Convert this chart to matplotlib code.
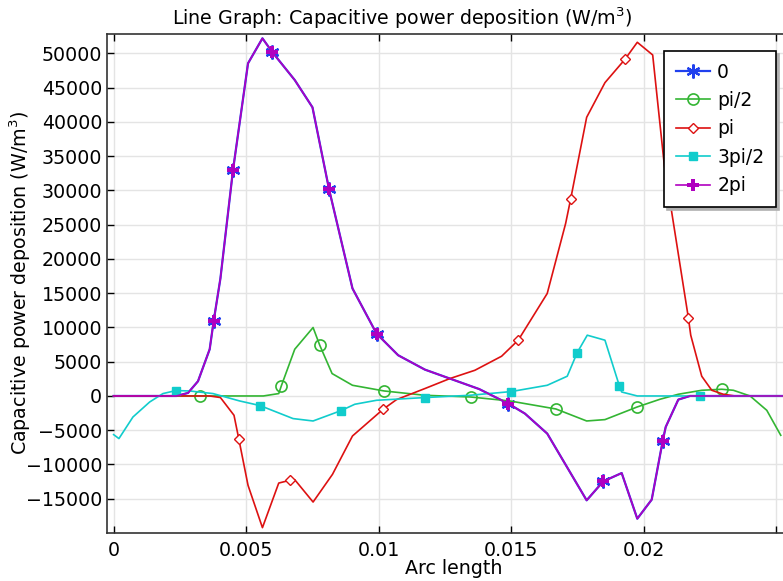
import matplotlib
matplotlib.use('Agg')
import matplotlib.pyplot as plt

# arc length (m) and capacitive power deposition (W/m^3) for each phase
x_0 = [0, 0.002368, 0.002806, 0.003184, 0.003625, 0.003776, 0.00403, 0.004505,
       0.005072, 0.005616, 0.005993, 0.006835, 0.007504, 0.008131, 0.009014,
       0.009921, 0.010737, 0.011745, 0.012689, 0.0138, 0.01489, 0.015521,
       0.016363, 0.017851, 0.018478, 0.019173, 0.019762, 0.020306, 0.020721,
       0.020834, 0.02131, 0.021752, 0.0253]
y_0 = [0, 0, 440, 2150, 6820, 10950, 17150, 32970,
       48550, 52200, 50160, 46110, 42130, 30150, 15690,
       9110, 5945, 3850, 2540, 1000, -1110, -2570,
       -5490, -15230, -12460, -11250, -17910, -15130, -6570,
       -4530, -530, 0, 0]

x_pi2 = [0, 0.003248, 0.00565, 0.006231, 0.006333, 0.006835, 0.007527, 0.007779,
         0.008244, 0.009014, 0.010208, 0.011745, 0.01347, 0.014955, 0.016692,
         0.017851, 0.018542, 0.019762, 0.020619, 0.02131, 0.022194, 0.02295,
         0.023388, 0.024018, 0.024648, 0.025176]
y_pi2 = [0, 0, 0, 350, 1520, 6820, 9990, 7400,
         3270, 1560, 730, 100, -150, -730, -1900,
         -3650, -3450, -1600, -480, 250, 830, 980,
         830, 0, -2090, -5740]

x_pi = [0, 0.003625, 0.00403, 0.004543, 0.004721, 0.005072, 0.005616, 0.006231,
        0.006647, 0.006835, 0.007527, 0.008259, 0.009014, 0.01017, 0.010676,
        0.011745, 0.012689, 0.013633, 0.014641, 0.015268, 0.016363, 0.017058,
        0.017247, 0.017851, 0.018542, 0.019298, 0.019762, 0.020343, 0.020781,
        0.021688, 0.021779, 0.022194, 0.022572, 0.02301, 0.02345, 0.0253]
y_pi = [0, 0, -230, -2820, -6220, -13040, -19220, -12710,
        -12310, -12220, -15480, -11440, -5840, -1940, -530,
        1080, 2540, 3750, 5800, 8140, 14960, 25180,
        28730, 40670, 45730, 49140, 51620, 49770, 33700,
        11450, 8870, 2880, 830, 250, 0, 0]

x_3pi2 = [0, 0.0002, 0.000729, 0.00136, 0.001862, 0.002353, 0.00287, 0.00375,
          0.004758, 0.005524, 0.006771, 0.007527, 0.008282, 0.008585, 0.009101,
          0.009921, 0.011756, 0.013444, 0.015, 0.016363, 0.017118, 0.017496,
          0.017874, 0.018542, 0.019082, 0.019173, 0.019762, 0.02213, 0.0253]
y_3pi2 = [-5640, -6220, -3070, -880, 350, 790, 730, 350,
          -730, -1400, -3300, -3650, -2570, -2130, -1210,
          -630, -230, 100, 640, 1560, 2880, 6340,
          8870, 8140, 1520, 580, 0, 0, 0]

# phase 2pi gives the same curve as phase 0
x_2pi = x_0
y_2pi = y_0

labels = ['0', 'pi/2', 'pi', '3pi/2', '2pi']

plt.rcParams['font.family'] = 'DejaVu Sans'
fs = 13.7
fig = plt.figure(figsize=(7.83, 5.81), dpi=100)
# axes run a little past the right side of the figure
ax = fig.add_axes([107/783, 48/581, (801-107)/783, 499/581])

lw = 1.2
ax.plot(x_0, y_0, color='#2040ee', lw=1.6, marker=(6, 2, 0), ms=10, mew=1.6,
        markevery=[5, 7, 10, 13, 15, 20, 24, 28], label=labels[0])
ax.plot(x_pi2, y_pi2, color='#33b533', lw=lw, marker='o', ms=8, mfc='none', mew=1.2,
        markevery=[1, 4, 7, 10, 12, 14, 17, 21], label=labels[1])
ax.plot(x_pi, y_pi, color='#dd1111', lw=lw, marker='D', ms=5.5, mfc='white', mew=1.0,
        markevery=[4, 8, 13, 19, 22, 25, 29], label=labels[2])
ax.plot(x_3pi2, y_3pi2, color='#11cccc', lw=lw, marker='s', ms=6,
        markevery=[5, 9, 13, 16, 18, 21, 24, 27], label=labels[3])
ax.plot(x_2pi, y_2pi, color='#b000c0', lw=lw, marker='P', ms=9, mew=0,
        markevery=[5, 7, 10, 13, 15, 20, 24, 28], label=labels[4])

ax.set_xlim(-0.00025, 0.02594)
ax.set_ylim(-20000, 52830)
ax.set_xticks([0, 0.005, 0.01, 0.015, 0.02, 0.025])
ax.set_xticklabels(['0', '0.005', '0.01', '0.015', '0.02', ''])
ax.set_yticks(range(-15000, 50001, 5000))
ax.grid(True, color='#e4e4e4', lw=1)
ax.set_axisbelow(True)
ax.tick_params(direction='in', length=5, width=1, labelsize=fs, top=True, right=False)
ax.tick_params(axis='x', pad=6)
for s in ax.spines.values():
    s.set_color('#333333')
    s.set_linewidth(1.2)

ax.set_xlabel('Arc length', fontsize=fs, labelpad=-1)
ax.set_ylabel('Capacitive power deposition (W/m$^3$)', fontsize=fs)
ax.yaxis.set_label_coords(-0.107, 0.5)
fig.text(402/783, 1 - 18/581, 'Line Graph: Capacitive power deposition (W/m$^3$)',
         ha='center', va='center', fontsize=fs)

leg = ax.legend(loc='upper right', bbox_to_anchor=(776/783, 1 - 51/581),
                bbox_transform=fig.transFigure, fontsize=13.5, fancybox=False,
                shadow={'color': '#b0b0b0', 'alpha': 1}, borderaxespad=0,
                framealpha=1, edgecolor='black', handlelength=1.8,
                handletextpad=0.4, borderpad=0.62, labelspacing=0.5)
leg.get_frame().set_linewidth(1.2)

fig.savefig('out.png', dpi=100)
